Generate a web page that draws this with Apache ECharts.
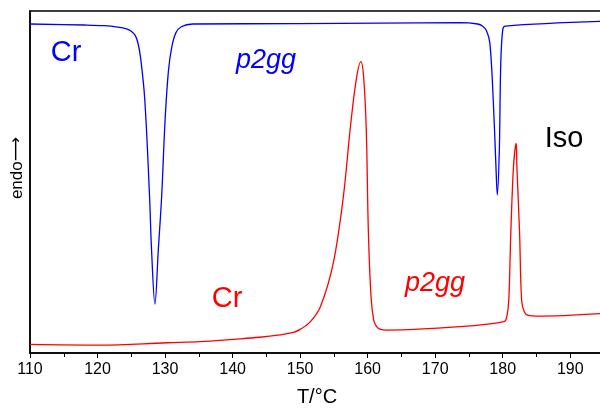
<!DOCTYPE html>
<html>
<head>
<meta charset="utf-8">
<script src="https://cdn.jsdelivr.net/npm/echarts@6/dist/echarts.min.js"></script>
<style>
  html, body { margin: 0; padding: 0; background: #fff; }
  #chart { width: 600px; height: 408px; }
</style>
</head>
<body>
<div id="chart"></div>
<script>
// temperature (°C) and heat flow (arbitrary units, endo up)
var coolTemp = [110.0, 118.0, 121.0, 123.0, 124.3, 125.0, 125.6, 126.0, 126.4, 127.0, 127.7, 128.0, 128.5,
  129.0, 129.5, 130.0, 130.5, 131.0, 131.6, 132.4, 134.1, 150.0, 173.7, 176.3, 177.0, 177.6, 178.1, 178.6, 179.0,
  179.2, 179.5, 179.7, 180.0, 180.4, 194.9];
var coolFlow = [96.2, 95.9, 95.7, 95.3, 94.8, 94.1, 92.8, 90.5, 86.0, 74.0, 46.0, 30.1, 14.3,
  30.1, 46.0, 68.0, 82.5, 89.5, 93.6, 95.4, 96.2, 96.3, 96.6, 96.2, 95.6, 94.2, 90.6, 74.0, 54.5,
  46.2, 59.4, 83.7, 94.5, 95.6, 97.0];

var heatTemp = [110.0, 120.4, 130.3, 135.2, 140.1, 144.0, 147.0, 149.0, 150.0, 151.5, 153.0, 154.9, 156.4,
  157.4, 158.3, 159.0, 159.4, 159.8, 160.1, 160.5, 160.9, 161.3, 161.8, 162.8, 173.7, 180.2, 180.6, 180.9, 181.2,
  181.6, 182.0, 182.1, 182.5, 182.8, 183.2, 183.8, 185.1, 194.9];
var heatFlow = [2.5, 2.3, 3.0, 3.3, 4.0, 4.6, 5.3, 6.0, 6.9, 9.1, 13.5, 26.2, 45.7,
  65.2, 79.8, 85.2, 80.8, 65.2, 36.0, 16.5, 9.6, 7.8, 7.0, 6.7, 7.7, 9.2, 10.5, 15.5, 35.0,
  54.5, 61.3, 54.5, 35.0, 15.5, 12.0, 11.0, 10.8, 11.6];

var tempTicks = [110, 120, 130, 140, 150, 160, 170, 180, 190];

function pairs(xs, ys) {
  return xs.map(function (x, i) { return [x, ys[i]]; });
}

var chart = echarts.init(document.getElementById('chart'));

var font = '"Liberation Sans", Arial, sans-serif';

function label(text, x, y, color, italic) {
  return {
    type: 'text',
    x: x, y: y,
    style: {
      text: text,
      fill: color,
      fontSize: italic ? 27 : 29,
      fontStyle: italic ? 'italic' : 'normal',
      fontFamily: font,
      align: 'center',
      verticalAlign: 'middle'
    }
  };
}

chart.setOption({
  animation: false,
  grid: {
    left: 30, width: 574, top: 11, bottom: 55,
    outerBoundsMode: 'none',
    show: true, borderColor: '#000', borderWidth: 1.5
  },
  xAxis: {
    type: 'value',
    min: 110, max: 195, interval: 10,
    name: 'T/°C',
    nameLocation: 'middle',
    nameGap: 34,
    nameTextStyle: { fontSize: 20, color: '#000', fontFamily: font },
    axisLine: { show: true, lineStyle: { color: '#000', width: 1.5 } },
    axisTick: { show: true, length: 5, lineStyle: { color: '#000' } },
    minorTick: { show: true, splitNumber: 2, length: 4, lineStyle: { color: '#000' } },
    axisLabel: {
      fontSize: 16, color: '#000', fontFamily: font, margin: 9,
      formatter: function (v) { return tempTicks.indexOf(v) >= 0 ? String(v) : ''; }
    },
    splitLine: { show: false }
  },
  yAxis: {
    type: 'value',
    min: 0, max: 100,
    axisLine: { show: true, lineStyle: { color: '#000', width: 1.5 } },
    axisTick: { show: false },
    axisLabel: { show: false },
    splitLine: { show: false }
  },
  graphic: [
    {
      type: 'text',
      x: 17, y: 168,
      rotation: Math.PI / 2,
      style: {
        text: 'endo{a|⟶}',
        fill: '#000',
        fontSize: 17,
        fontFamily: font,
        align: 'center',
        verticalAlign: 'middle',
        rich: { a: { fontFamily: '"DejaVu Sans"', fontSize: 17, fill: '#000' } }
      }
    },
    label('Cr', 66, 53, '#0000ff', false),
    label('p2gg', 266, 60, '#0000ff', true),
    label('Cr', 227, 299, '#ff0000', false),
    label('p2gg', 435, 283, '#ff0000', true),
    label('Iso', 564, 139, '#000', false)
  ],
  series: [
    {
      type: 'line',
      name: 'cooling',
      data: pairs(coolTemp, coolFlow),
      showSymbol: false,
      smooth: 0.35,
      lineStyle: { color: '#0000ff', width: 1.3 }
    },
    {
      type: 'line',
      name: 'heating',
      data: pairs(heatTemp, heatFlow),
      showSymbol: false,
      smooth: 0.35,
      lineStyle: { color: '#ff0000', width: 1.3 }
    }
  ]
});
</script>
</body>
</html>
